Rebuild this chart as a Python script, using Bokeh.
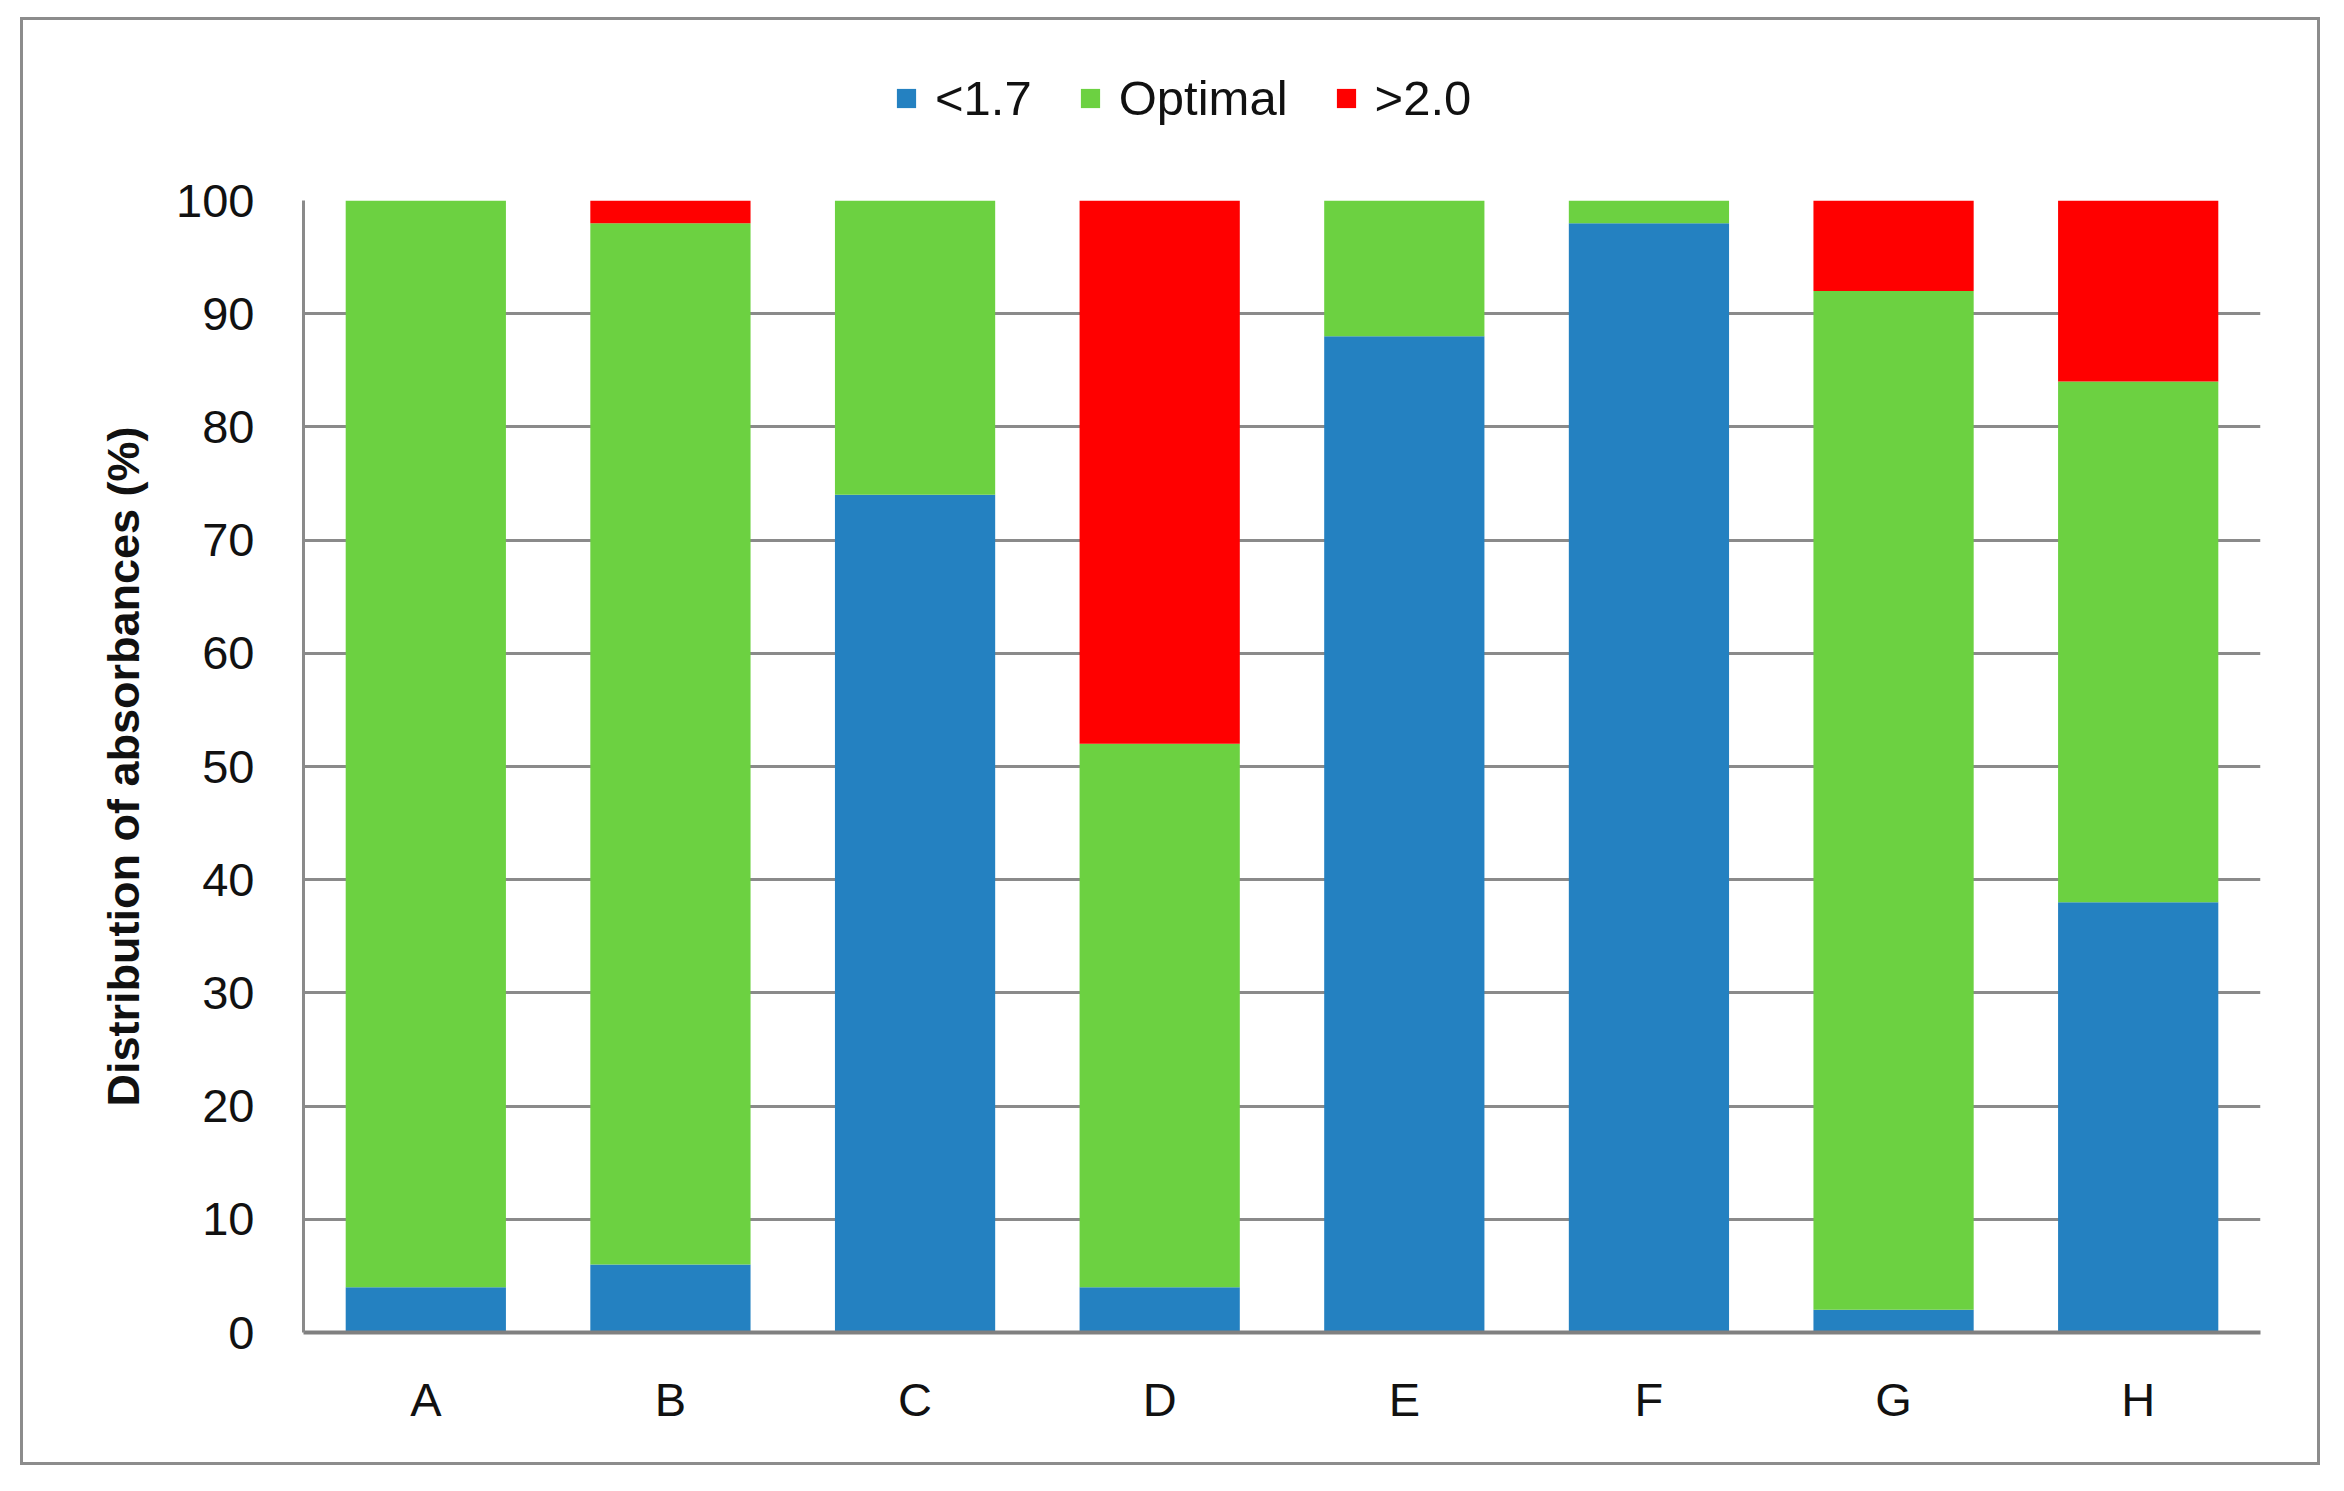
from bokeh.plotting import figure
from bokeh.models import Legend, LegendItem, SingleIntervalTicker, FactorRange, Range1d
from bokeh.layouts import column
from bokeh.embed import file_html
from bokeh.resources import INLINE

categories = ["A", "B", "C", "D", "E", "F", "G", "H"]
low = [4, 6, 74, 4, 88, 98, 2, 38]          # <1.7
optimal = [96, 92, 26, 48, 12, 2, 90, 46]   # Optimal
high = [0, 2, 0, 48, 0, 0, 8, 16]           # >2.0
series_names = ["<1.7", "Optimal", ">2.0"]
colors = ["#2481C1", "#6CD141", "#FF0000"]

data = dict(cat=categories, low=low, optimal=optimal, high=high)

FONT = "Liberation Sans"
TEXT = "#111111"

# ---- legend strip (its own small figure, so nothing is clipped) ----
lf = figure(width=2294, height=154, output_backend="svg", toolbar_location=None,
            x_range=Range1d(0, 1), y_range=Range1d(0, 1),
            x_axis_location=None, y_axis_location=None,
            min_border=0, min_border_left=0, min_border_right=0,
            min_border_top=0, min_border_bottom=0)
lf.grid.visible = False
lf.outline_line_color = None
lf.border_fill_color = "white"
# swatch renderers for the legend only (kept outside the visible range)
dummy = [lf.vbar(x=[-5], bottom=[-5], top=[-4], width=0.5, color=c, line_color=None)
         for c in colors]
legend = Legend(
    items=[LegendItem(label=n, renderers=[r]) for n, r in zip(series_names, dummy)],
    orientation="horizontal", location=(591, 48),
    glyph_width=24, glyph_height=24,
    label_text_font=FONT, label_text_font_size="49px", label_text_color=TEXT,
    label_standoff=17, spacing=46, padding=0, margin=0,
    border_line_color=None, background_fill_alpha=0,
)
lf.add_layout(legend, "center")

# ---- main chart ----
p = figure(
    x_range=FactorRange(*categories, range_padding=0),
    y_range=(0, 100),
    width=2294, height=1288,
    output_backend="svg", toolbar_location=None,
    min_border_left=280, min_border_right=57,
    min_border_top=26, min_border_bottom=130,
)

p.vbar_stack(["low", "optimal", "high"], x="cat", width=0.655,
             color=colors, source=data, line_color=None)

p.outline_line_color = None
p.background_fill_color = "white"
p.border_fill_color = "white"

p.xgrid.grid_line_color = None
p.ygrid.grid_line_color = "#8a8a8a"
p.ygrid.grid_line_width = 3
p.yaxis.ticker = SingleIntervalTicker(interval=10)

p.yaxis.axis_line_color = "#8a8a8a"
p.yaxis.axis_line_width = 3
p.yaxis.major_tick_line_color = None
p.yaxis.minor_tick_line_color = None
p.yaxis.major_label_standoff = 43
p.yaxis.major_label_text_font = FONT
p.yaxis.major_label_text_font_size = "47px"
p.yaxis.major_label_text_color = TEXT
p.yaxis.axis_label = "Distribution of absorbances (%)"
p.yaxis.axis_label_text_font = FONT
p.yaxis.axis_label_text_font_style = "bold"
p.yaxis.axis_label_text_font_size = "45px"
p.yaxis.axis_label_text_color = TEXT
p.yaxis.axis_label_standoff = 24

p.xaxis.axis_line_color = "#808080"
p.xaxis.axis_line_width = 4
p.xaxis.major_tick_line_color = None
p.xaxis.minor_tick_line_color = None
p.xaxis.major_label_standoff = 34
p.xaxis.major_label_text_font = FONT
p.xaxis.major_label_text_font_size = "47px"
p.xaxis.major_label_text_color = TEXT

layout = column(lf, p, spacing=0, margin=(17, 0, 0, 20),
                styles={"border": "3px solid #8c8c8c", "background-color": "white"})
open("out.html", "w").write(file_html(layout, INLINE))
